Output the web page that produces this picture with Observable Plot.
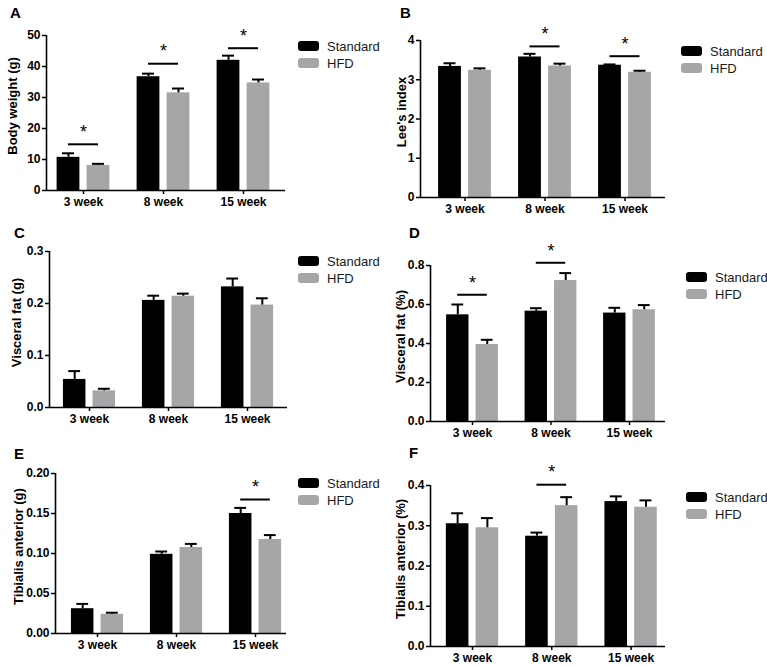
<!DOCTYPE html>
<html>
<head>
<meta charset="utf-8">
<script src="https://cdn.jsdelivr.net/npm/d3@7"></script>
<script src="https://cdn.jsdelivr.net/npm/@observablehq/plot@0.6"></script>
<style>
  html, body { margin: 0; padding: 0; background: #fff; }
  #root { position: relative; width: 767px; height: 667px; overflow: hidden; background: #fff;
          font-family: "Liberation Sans", Arial, sans-serif; }
  .panel { position: absolute; }
  .letter { position: absolute; font-size: 15px; font-weight: bold; line-height: 1; color: #000; }
  .leg { position: absolute; font-size: 13px; line-height: 1; color: #1a1a1a; }
  .leg .row { position: absolute; left: 0; white-space: nowrap; }
  .leg .sw { position: absolute; left: 0; width: 21px; height: 10px; border-radius: 3px; }
  .leg .lab { position: absolute; left: 29px; top: -6px; }
</style>
</head>
<body>
<div id="root"></div>
<script>
// ---------- data ----------
const weeks = ["3 week", "8 week", "15 week"];
const groups = ["Standard", "HFD"];

// A: Body weight (g)
const bodyStd = [10.7, 36.7, 42.0];
const bodyStdErr = [1.3, 1.0, 1.5];
const bodyHfd = [8.1, 31.5, 34.7];
const bodyHfdErr = [0.5, 1.4, 1.1];
const bodySigWeeks = [0, 1, 2];
const bodySigLevel = [14.9, 40.9, 45.9];
const bodyTicks = [0, 10, 20, 30, 40, 50];

// B: Lee's index
const leeStd = [3.34, 3.58, 3.37];
const leeStdErr = [0.08, 0.08, 0.02];
const leeHfd = [3.24, 3.35, 3.19];
const leeHfdErr = [0.05, 0.06, 0.04];
const leeSigWeeks = [1, 2];
const leeSigLevel = [3.85, 3.60];
const leeTicks = [0, 1, 2, 3, 4];

// C: Visceral fat (g)
const vfgStd = [0.054, 0.206, 0.232];
const vfgStdErr = [0.016, 0.009, 0.016];
const vfgHfd = [0.032, 0.214, 0.197];
const vfgHfdErr = [0.004, 0.005, 0.013];
const vfgSigWeeks = [];
const vfgSigLevel = [];
const vfgTicks = [0, 0.1, 0.2, 0.3];

// D: Visceral fat (%)
const vfpStd = [0.547, 0.566, 0.556];
const vfpStdErr = [0.053, 0.015, 0.027];
const vfpHfd = [0.395, 0.723, 0.573];
const vfpHfdErr = [0.024, 0.038, 0.024];
const vfpSigWeeks = [0, 1];
const vfpSigLevel = [0.65, 0.814];
const vfpTicks = [0, 0.2, 0.4, 0.6, 0.8];

// E: Tibialis anterior (g)
const tagStd = [0.031, 0.099, 0.150];
const tagStdErr = [0.006, 0.0035, 0.007];
const tagHfd = [0.024, 0.1075, 0.1175];
const tagHfdErr = [0.002, 0.0045, 0.0055];
const tagSigWeeks = [2];
const tagSigLevel = [0.1675];
const tagTicks = [0, 0.05, 0.10, 0.15, 0.20];

// F: Tibialis anterior (%)
const tapStd = [0.305, 0.274, 0.360];
const tapStdErr = [0.026, 0.009, 0.013];
const tapHfd = [0.295, 0.350, 0.346];
const tapHfdErr = [0.024, 0.021, 0.017];
const tapSigWeeks = [1];
const tapSigLevel = [0.402];
const tapTicks = [0, 0.1, 0.2, 0.3, 0.4];

// ---------- layout (pixels) ----------
const panels = [
  {letter: "A", label: "Body weight (g)", std: bodyStd, stdErr: bodyStdErr, hfd: bodyHfd, hfdErr: bodyHfdErr,
   sigW: bodySigWeeks, sigL: bodySigLevel, ticks: bodyTicks, fmt: d3.format("d"),
   geo: {left: 0, top: 10, width: 290, height: 210, axisX: 46, rightEnd: 285, c0: 83, step: 80, yTop: 35, yZero: 190, labelX: 12},
   letterPos: [10, 5], legPos: [298, 46]},
  {letter: "B", label: "Lee's index", std: leeStd, stdErr: leeStdErr, hfd: leeHfd, hfdErr: leeHfdErr,
   sigW: leeSigWeeks, sigL: leeSigLevel, ticks: leeTicks, fmt: d3.format("d"),
   geo: {left: 380, top: 10, width: 290, height: 215, axisX: 420, rightEnd: 665, c0: 464.5, step: 80, yTop: 40, yZero: 197, labelX: 401},
   letterPos: [400, 5], legPos: [681, 51]},
  {letter: "C", label: "Visceral fat (g)", std: vfgStd, stdErr: vfgStdErr, hfd: vfgHfd, hfdErr: vfgHfdErr,
   sigW: vfgSigWeeks, sigL: vfgSigLevel, ticks: vfgTicks, fmt: d3.format(".1f"),
   geo: {left: 0, top: 230, width: 290, height: 210, axisX: 49, rightEnd: 287, c0: 89, step: 79, yTop: 251, yZero: 407, labelX: 16},
   letterPos: [14, 225], legPos: [298, 261]},
  {letter: "D", label: "Visceral fat (%)", std: vfpStd, stdErr: vfpStdErr, hfd: vfpHfd, hfdErr: vfpHfdErr,
   sigW: vfpSigWeeks, sigL: vfpSigLevel, ticks: vfpTicks, fmt: d3.format(".1f"),
   geo: {left: 380, top: 230, width: 290, height: 220, axisX: 430, rightEnd: 665, c0: 472, step: 78.5, yTop: 265, yZero: 421, labelX: 400},
   letterPos: [409, 225], legPos: [686, 277]},
  {letter: "E", label: "Tibialis anterior (g)", std: tagStd, stdErr: tagStdErr, hfd: tagHfd, hfdErr: tagHfdErr,
   sigW: tagSigWeeks, sigL: tagSigLevel, ticks: tagTicks, fmt: d3.format(".2f"),
   geo: {left: 0, top: 450, width: 290, height: 215, axisX: 55, rightEnd: 286, c0: 97, step: 79, yTop: 473, yZero: 633, labelX: 18},
   letterPos: [14, 446], legPos: [298, 483]},
  {letter: "F", label: "Tibialis anterior (%)", std: tapStd, stdErr: tapStdErr, hfd: tapHfd, hfdErr: tapHfdErr,
   sigW: tapSigWeeks, sigL: tapSigLevel, ticks: tapTicks, fmt: d3.format(".1f"),
   geo: {left: 380, top: 460, width: 290, height: 207, axisX: 430, rightEnd: 665, c0: 472, step: 79.3, yTop: 485, yZero: 646, labelX: 400},
   letterPos: [409, 445], legPos: [686, 497]}
];

const colors = ["#000000", "#a6a6a9"];
const barIn = 0.045, barOut = 0.33, mid = (barIn + barOut) / 2, cap = 0.075;

const root = document.getElementById("root");

for (const p of panels) {
  const g = p.geo;
  const rows = [];
  weeks.forEach((w, i) => {
    rows.push({i, group: groups[0], mean: p.std[i], err: p.stdErr[i], side: -1});
    rows.push({i, group: groups[1], mean: p.hfd[i], err: p.hfdErr[i], side: 1});
  });
  const sig = p.sigW.map((i, k) => ({i, y: p.sigL[k]}));
  const x0 = (g.axisX - g.c0) / g.step;
  const x1 = (g.rightEnd - g.c0) / g.step;
  const yMax = p.ticks[p.ticks.length - 1];
  const cx = d => d.i + d.side * mid;

  const chart = Plot.plot({
    width: g.width,
    height: g.height,
    marginLeft: g.axisX - g.left,
    marginRight: g.left + g.width - g.rightEnd,
    marginTop: g.yTop - g.top,
    marginBottom: g.top + g.height - g.yZero,
    style: {fontFamily: '"Liberation Sans", Arial, sans-serif', fontSize: "12px", fontWeight: "bold", background: "transparent", overflow: "visible", color: "#000"},
    x: {domain: [x0, x1]},
    y: {domain: [0, yMax]},
    color: {domain: groups, range: colors},
    marks: [
      Plot.rectY(rows, {
        x1: d => d.side < 0 ? d.i - barOut : d.i + barIn,
        x2: d => d.side < 0 ? d.i - barIn : d.i + barOut,
        y1: 0, y2: "mean", fill: "group"
      }),
      Plot.ruleX(rows, {x: cx, y1: "mean", y2: d => d.mean + d.err, stroke: "#000", strokeWidth: 2}),
      Plot.ruleY(rows, {y: d => d.mean + d.err, x1: d => cx(d) - cap, x2: d => cx(d) + cap, stroke: "#000", strokeWidth: 2}),
      Plot.ruleY(sig, {y: "y", x1: d => d.i - mid, x2: d => d.i + mid, stroke: "#000", strokeWidth: 2}),
      Plot.text(sig, {x: "i", y: "y", text: () => "*", dy: -12, fontSize: 18, fontWeight: "normal", fill: "#000"}),
      Plot.ruleX([x0], {stroke: "#000", strokeWidth: 1.6}),
      Plot.ruleY([0], {stroke: "#000", strokeWidth: 1.6}),
      Plot.axisY({ticks: p.ticks, tickFormat: p.fmt, tickSize: 4, tickPadding: 2, label: null, strokeWidth: 1.5}),
      Plot.axisX({ticks: [0, 1, 2], tickFormat: i => weeks[i], tickSize: 4, tickPadding: 3, label: null, strokeWidth: 1.5}),
      Plot.text([p.label], {text: d => d, frameAnchor: "left", textAnchor: "middle", lineAnchor: "middle", dx: g.labelX - g.axisX, dy: -7, rotate: -90, fontSize: 13, fontWeight: "bold", fill: "#000"})
    ]
  });
  const holder = document.createElement("div");
  holder.className = "panel";
  holder.style.left = g.left + "px";
  holder.style.top = g.top + "px";
  holder.appendChild(chart);
  root.appendChild(holder);

  const letter = document.createElement("div");
  letter.className = "letter";
  letter.textContent = p.letter;
  letter.style.left = p.letterPos[0] + "px";
  letter.style.top = p.letterPos[1] + "px";
  root.appendChild(letter);

  const leg = document.createElement("div");
  leg.className = "leg";
  leg.style.left = p.legPos[0] + "px";
  leg.style.top = p.legPos[1] + "px";
  groups.forEach((name, k) => {
    const row = document.createElement("div");
    row.className = "row";
    row.style.top = (k * 17) + "px";
    const sw = document.createElement("div");
    sw.className = "sw";
    sw.style.background = colors[k];
    sw.style.top = "-5px";
    const lab = document.createElement("div");
    lab.className = "lab";
    lab.textContent = name;
    row.appendChild(sw);
    row.appendChild(lab);
    leg.appendChild(row);
  });
  root.appendChild(leg);
}
</script>
</body>
</html>
